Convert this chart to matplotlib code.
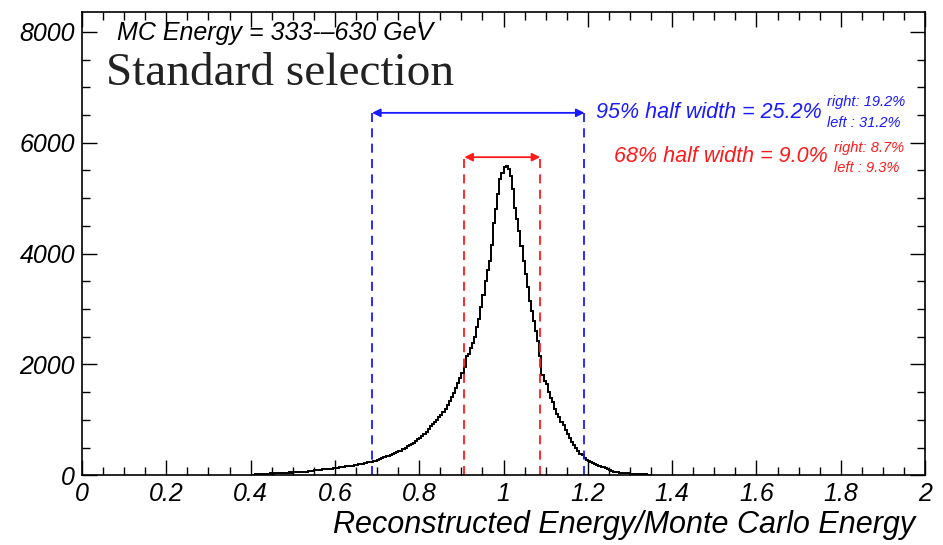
import matplotlib
matplotlib.use("Agg")
import matplotlib.pyplot as plt
import numpy as np
from matplotlib.ticker import MultipleLocator

# Histogram of E_reco / E_MC, bins of 0.005 starting at 0.400
bin_start = 0.400
bin_width = 0.005
counts = [
    0, 10, 20, 15, 25, 20, 30, 25, 30, 35,            # 0.400 - 0.445
    30, 40, 35, 40, 40, 45, 40, 45, 50, 45,           # 0.450 - 0.495
    50, 55, 50, 55, 60, 60, 65, 70, 75, 80,           # 0.500 - 0.545
    90, 95, 95, 100, 105, 110, 110, 115, 120, 125,    # 0.550 - 0.595
    125, 130, 140, 145, 150, 160, 165, 170, 175, 185,  # 0.600 - 0.645
    190, 200, 205, 210, 220, 230, 235, 245, 250, 260,  # 0.650 - 0.695
    275, 290, 310, 330, 340, 355, 370, 380, 400, 420,  # 0.700 - 0.745
    430, 445, 470, 490, 520, 545, 570, 590, 620, 650,  # 0.750 - 0.795
    680, 700, 740, 780, 830, 880, 920, 960, 1000, 1050,  # 0.800 - 0.845
    1080, 1140, 1200, 1270, 1340, 1410, 1490, 1570, 1660, 1750,  # 0.850 - 0.895
    1850, 1960, 2160, 2180, 2300, 2380, 2500, 2670, 2820, 3030,  # 0.900 - 0.945
    3250, 3510, 3700, 3870, 4150, 4560, 4800, 5075, 5345, 5450,  # 0.950 - 0.995
    5570, 5580, 5520, 5400, 5170, 4830, 4630, 4400, 4140, 3870,  # 1.000 - 1.045
    3640, 3400, 3150, 2960, 2790, 2600, 2430, 2160, 1800, 1700,  # 1.050 - 1.095
    1650, 1500, 1400, 1330, 1200, 1110, 1050, 960, 900, 820,     # 1.100 - 1.145
    740, 665, 600, 540, 485, 440, 390, 360, 310, 280,            # 1.150 - 1.195
    250, 240, 215, 200, 180, 165, 150, 140, 125, 115,            # 1.200 - 1.245
    100, 80, 65, 60, 50, 45, 40, 40, 35, 40,                     # 1.250 - 1.295
    30, 25, 20, 25, 15, 20, 10, 15, 10, 5,                       # 1.300 - 1.345
]

# resolution numbers
peak = 1.0
w95_left, w95_right, w95_half = 31.2, 19.2, 25.2
w68_left, w68_right, w68_half = 9.3, 8.7, 9.0
arrow95_y = 6540
arrow68_y = 5740

edges = bin_start + bin_width * np.arange(len(counts) + 1)

plt.rcParams["font.family"] = ["Liberation Sans", "DejaVu Sans"]
plt.rcParams["font.style"] = "italic"

fig = plt.figure(figsize=(9.43, 5.45), dpi=100)
ax = fig.add_axes([0.087, 0.128, 0.894, 0.850])

ax.stairs(counts, edges, color="black", linewidth=1.4)

# 95% and 68% intervals
lo95, hi95 = peak - w95_left / 100, peak + w95_right / 100
lo68, hi68 = peak - w68_left / 100, peak + w68_right / 100
dash = (0, (5, 3.5))
blue, red = "#1a1aff", "#ff1a1a"
for x in (lo95, hi95):
    ax.plot([x, x], [0, arrow95_y], color=blue, linestyle=dash, linewidth=1.3)
for x in (lo68, hi68):
    ax.plot([x, x], [0, arrow68_y], color=red, linestyle=dash, linewidth=1.3)

ax.annotate("", xy=(lo95, arrow95_y), xytext=(hi95, arrow95_y),
            arrowprops=dict(arrowstyle="<|-|>", color=blue, lw=1.3,
                            shrinkA=0, shrinkB=0, mutation_scale=12))
ax.annotate("", xy=(lo68, arrow68_y), xytext=(hi68, arrow68_y),
            arrowprops=dict(arrowstyle="<|-|>", color=red, lw=1.3,
                            shrinkA=0, shrinkB=0, mutation_scale=12))

# labels next to arrows
ax.text(0.610, 0.782, f"95% half width = {w95_half:.1f}%", transform=ax.transAxes,
        color=blue, fontsize=15.5, va="center", ha="left")
ax.text(0.884, 0.806, f"right: {w95_right:.1f}%", transform=ax.transAxes,
        color=blue, fontsize=10.5, va="center", ha="left")
ax.text(0.884, 0.760, f"left : {w95_left:.1f}%", transform=ax.transAxes,
        color=blue, fontsize=10.5, va="center", ha="left")

ax.text(0.631, 0.687, f"68% half width = {w68_half:.1f}%", transform=ax.transAxes,
        color=red, fontsize=15.5, va="center", ha="left")
ax.text(0.892, 0.707, f"right: {w68_right:.1f}%", transform=ax.transAxes,
        color=red, fontsize=10.5, va="center", ha="left")
ax.text(0.892, 0.663, f"left : {w68_left:.1f}%", transform=ax.transAxes,
        color=red, fontsize=10.5, va="center", ha="left")

ax.text(0.042, 0.955, "MC Energy = 333-\u2013630 GeV", transform=ax.transAxes,
        fontsize=18, va="center", ha="left")
ax.text(0.029, 0.867, "Standard selection", transform=ax.transAxes,
        fontsize=34, va="center", ha="left", family="Liberation Serif",
        style="normal", color="#222222")

ax.set_xlim(0, 2)
ax.set_ylim(0, 8360)
ax.xaxis.set_major_locator(MultipleLocator(0.2))
ax.xaxis.set_minor_locator(MultipleLocator(0.05))
ax.yaxis.set_major_locator(MultipleLocator(2000))
ax.yaxis.set_minor_locator(MultipleLocator(500))
ax.set_xticks(np.arange(0, 2.01, 0.2))
ax.set_xticklabels(["0", "0.2", "0.4", "0.6", "0.8", "1", "1.2", "1.4", "1.6", "1.8", "2"])
ax.tick_params(which="both", direction="in", top=True, right=True,
               labelsize=18, width=1.0)
ax.tick_params(which="major", length=11)
ax.tick_params(which="minor", length=6)
ax.tick_params(axis="x", pad=5)
ax.tick_params(axis="y", pad=5)
for s in ax.spines.values():
    s.set_linewidth(1.2)

ax.set_xlabel("Reconstructed Energy/Monte Carlo Energy", fontsize=22,
              ha="right", va="center")
ax.xaxis.set_label_coords(0.988, -0.108)

fig.savefig("out.png", dpi=100)
